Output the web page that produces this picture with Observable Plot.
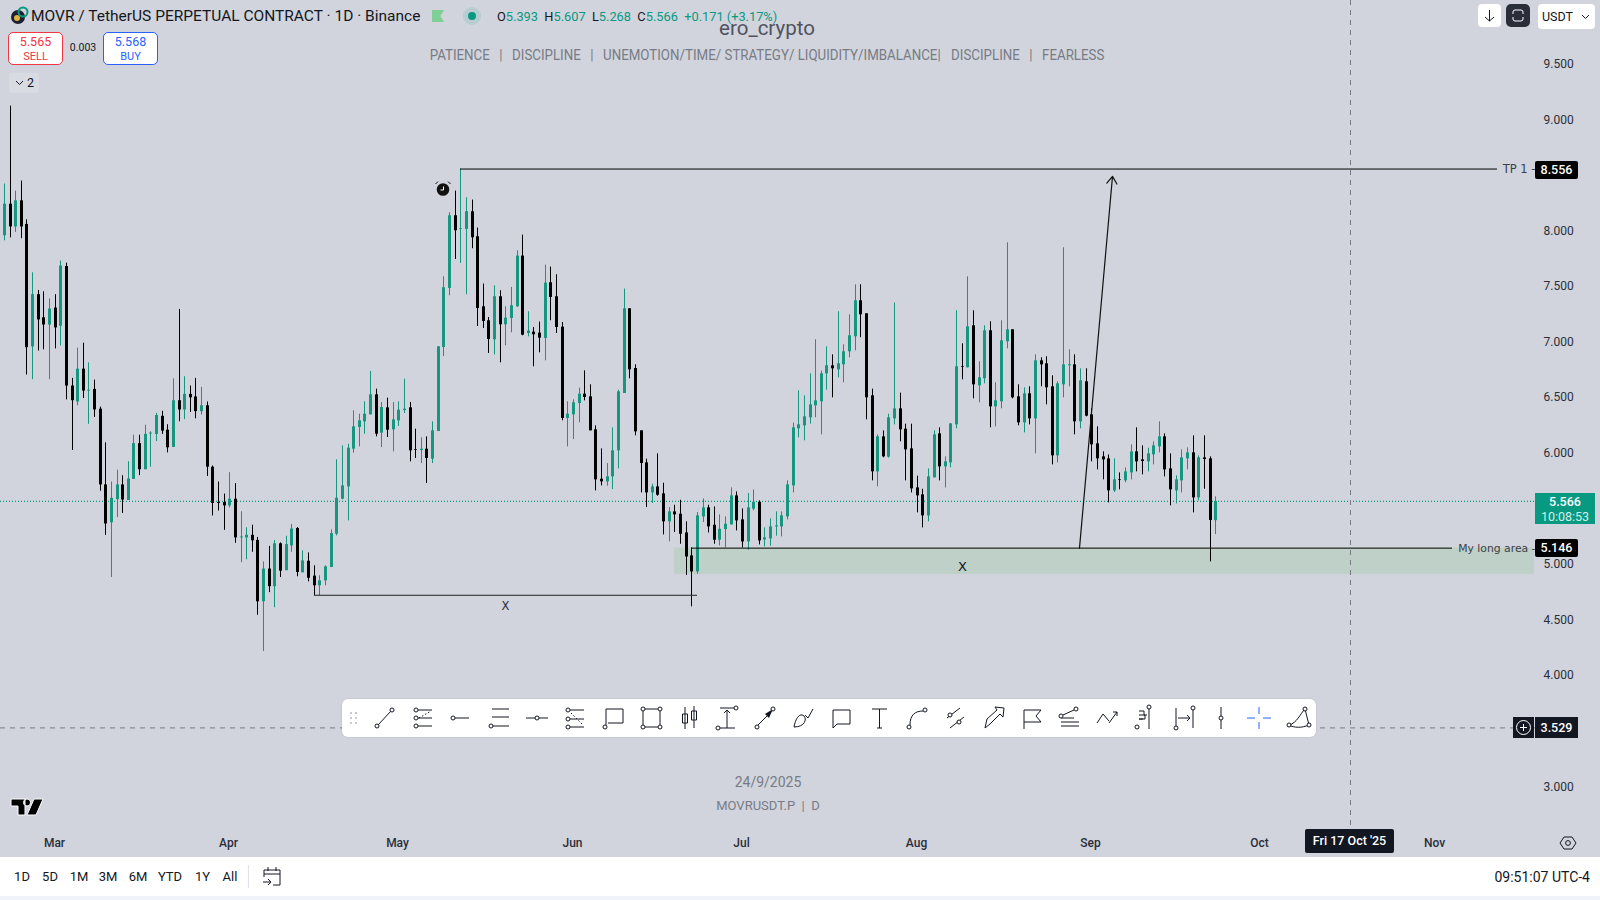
<!DOCTYPE html>
<html>
<head>
<meta charset="utf-8">
<script src="https://cdn.jsdelivr.net/npm/d3@7"></script>
<script src="https://cdn.jsdelivr.net/npm/@observablehq/plot@0.6"></script>
<style>
html,body{margin:0;padding:0;background:#d1d4dc;width:1600px;height:900px;overflow:hidden;font-family:Roboto,sans-serif;color:#131722}
#wrap{position:relative;width:1600px;height:900px;overflow:hidden}
#wrap > svg{display:block}
.abs{position:absolute;white-space:nowrap}
.tag{position:absolute;background:#000;color:#fff;font:500 12.5px Roboto,sans-serif;text-align:center;border-radius:2px}
.c{transform:translateX(-50%);text-align:center}
.wm{color:#787b86}
</style>
</head>
<body>
<div id="wrap"></div>
<script>
const firstBar = "2025-02-21";
const highs = [
8.421,9.122,8.357,8.448,8.100,7.623,7.464,7.452,7.388,7.426,
7.729,7.710,6.673,6.945,6.990,6.813,6.657,6.415,6.093,5.741,
5.847,5.798,5.923,6.162,6.162,6.252,6.192,6.358,6.377,6.256,
6.669,7.293,6.688,6.604,6.673,6.593,6.461,5.885,5.741,5.632,
5.825,5.726,5.473,5.329,5.352,5.242,5.022,5.162,5.215,5.193,
5.253,5.359,5.331,5.121,5.103,4.987,4.897,4.987,5.310,5.940,
6.066,6.081,6.381,6.351,6.462,6.735,6.576,6.456,6.495,6.456,
6.462,6.666,6.456,6.216,6.138,6.147,6.282,6.957,7.587,8.163,
8.358,8.556,8.298,8.277,8.025,7.521,7.221,7.506,7.461,7.317,
7.491,7.821,7.962,7.272,7.131,7.179,7.692,7.674,7.605,7.176,
6.462,6.480,6.585,6.741,6.615,6.246,6.039,5.907,6.228,6.567,
7.476,7.299,6.795,6.201,5.946,5.721,5.994,5.730,5.511,5.532,
5.577,5.382,5.148,5.466,5.589,5.532,5.517,5.445,5.427,5.688,
5.652,5.499,5.637,5.670,5.571,5.328,5.409,5.472,5.472,5.751,
6.270,6.561,6.516,6.714,7.020,6.738,6.957,6.885,7.272,6.975,
7.245,7.515,7.515,7.254,6.576,6.165,6.201,6.351,7.350,6.540,
6.261,6.261,5.793,5.676,5.859,6.201,6.228,5.967,6.264,7.281,
6.984,7.587,7.281,6.822,7.146,7.182,6.633,7.191,7.893,7.110,
6.615,6.588,6.597,6.885,6.858,6.867,6.696,6.642,7.848,6.930,
6.885,6.759,6.759,6.399,6.237,6.012,5.985,5.949,5.823,5.868,
6.075,6.228,6.066,6.045,6.102,6.282,6.174,5.994,5.796,6.030,
6.048,6.156,5.976,6.156,5.967,5.607];
const lows = [
7.910,7.937,7.986,7.929,6.703,6.661,6.919,6.930,6.661,6.938,
6.964,6.480,6.025,6.427,6.491,6.260,6.321,5.658,5.261,4.882,
5.420,5.458,5.575,5.764,5.798,5.851,5.874,6.105,6.169,6.003,
6.052,6.283,6.302,6.366,6.309,6.343,5.791,5.435,5.480,5.306,
5.507,5.189,5.015,5.041,5.109,4.542,4.216,4.746,4.610,4.882,
4.943,5.109,4.888,4.924,4.843,4.717,4.717,4.807,4.972,5.256,
5.580,5.391,6.000,6.057,6.171,6.345,6.147,6.051,6.141,6.012,
6.240,6.357,5.922,5.952,5.907,5.727,5.907,6.195,6.870,7.416,
7.743,7.707,7.425,7.839,7.140,7.122,6.897,6.885,6.813,6.966,
7.083,7.311,7.056,7.047,6.777,6.903,6.831,7.191,7.077,6.291,
6.057,6.123,6.273,6.471,6.201,5.661,5.706,5.703,5.673,5.859,
6.537,6.669,6.156,5.643,5.511,5.547,5.613,5.265,5.202,5.286,
5.181,4.900,4.618,4.911,5.376,5.283,5.181,5.166,5.148,5.355,
5.301,5.148,5.127,5.481,5.175,5.157,5.163,5.253,5.247,5.400,
5.643,6.138,6.111,6.261,6.318,6.165,6.567,6.498,6.678,6.633,
6.858,6.921,7.038,6.300,5.751,5.697,5.958,5.955,6.255,6.102,
5.751,5.643,5.463,5.328,5.382,5.778,5.751,5.688,5.868,6.219,
6.660,6.768,6.489,6.453,6.624,6.228,6.237,6.399,6.939,6.489,
6.246,6.183,6.255,5.994,6.597,6.435,5.895,5.913,6.498,6.597,
6.165,6.219,6.327,5.922,5.850,5.760,5.553,5.646,5.670,5.733,
5.760,5.832,5.805,5.832,5.895,6.003,5.787,5.526,5.544,5.643,
5.850,5.463,5.571,5.676,5.022,5.268];
const opens = [
7.956,8.240,8.035,8.270,8.058,6.956,7.426,7.218,7.153,7.305,
7.142,7.679,6.604,6.461,6.756,6.559,6.574,6.396,5.715,5.374,
5.582,5.715,5.575,5.764,6.086,5.851,6.173,6.169,6.332,6.207,
6.052,6.472,6.389,6.529,6.506,6.374,6.427,5.874,5.556,5.556,
5.526,5.586,5.238,5.238,5.261,5.215,4.663,4.958,4.799,5.185,
4.943,5.166,5.322,4.924,5.028,4.894,4.807,4.852,4.972,5.271,
5.586,5.697,6.036,6.231,6.282,6.345,6.525,6.180,6.408,6.210,
6.291,6.384,6.408,6.033,6.024,6.036,5.946,6.195,6.951,7.482,
8.136,8.013,8.013,8.172,7.947,7.317,7.191,7.020,7.407,7.155,
7.212,7.317,7.773,7.077,7.089,7.080,7.032,7.533,7.407,7.134,
6.312,6.345,6.447,6.531,6.507,6.210,5.766,5.742,5.787,6.021,
6.537,7.299,6.762,6.201,5.913,5.643,5.697,5.634,5.382,5.472,
5.451,5.283,5.076,4.932,5.427,5.508,5.352,5.217,5.313,5.355,
5.616,5.400,5.202,5.496,5.559,5.220,5.229,5.337,5.337,5.427,
5.706,6.219,6.246,6.318,6.426,6.462,6.714,6.786,6.750,6.795,
6.912,7.047,7.371,7.254,6.516,5.832,6.147,5.964,6.309,6.399,
6.216,6.039,5.688,5.625,5.436,5.778,6.174,5.877,5.913,6.255,
6.777,6.768,7.146,6.606,6.669,7.101,6.417,6.462,7.002,7.110,
6.507,6.273,6.534,6.309,6.831,6.804,6.597,5.976,6.615,6.786,
6.795,6.282,6.642,6.345,6.084,5.967,5.949,5.661,5.760,5.751,
5.823,6.012,5.940,5.922,5.985,6.057,6.147,5.859,5.661,5.751,
5.949,6.003,5.598,5.958,5.949,5.393];
const closes = [
8.240,8.035,8.270,8.035,6.949,7.426,7.199,7.153,7.297,7.127,
7.683,6.604,6.472,6.756,6.559,6.567,6.389,5.715,5.363,5.594,
5.715,5.579,5.768,6.086,5.851,6.169,6.181,6.339,6.199,6.048,
6.472,6.389,6.529,6.498,6.374,6.427,5.874,5.548,5.548,5.526,
5.586,5.238,5.246,5.261,5.212,4.663,4.958,4.799,5.185,4.939,
5.178,5.318,4.927,5.031,4.875,4.807,4.852,4.978,5.277,5.595,
5.706,6.045,6.237,6.291,6.351,6.525,6.171,6.411,6.207,6.300,
6.387,6.396,6.021,6.027,6.036,5.952,6.201,6.957,7.488,8.136,
8.001,8.019,8.172,7.938,7.302,7.185,7.023,7.407,7.155,7.215,
7.326,7.773,7.062,7.098,7.065,7.035,7.530,7.401,7.131,6.312,
6.351,6.453,6.531,6.501,6.201,5.760,5.742,5.787,6.021,6.552,
7.299,6.750,6.192,5.907,5.643,5.697,5.622,5.382,5.472,5.445,
5.271,5.067,4.932,5.436,5.508,5.337,5.217,5.316,5.361,5.616,
5.391,5.202,5.508,5.559,5.211,5.238,5.337,5.346,5.436,5.715,
6.228,6.255,6.327,6.435,6.471,6.714,6.786,6.759,6.804,6.912,
7.056,7.371,7.245,6.498,5.832,6.147,5.967,6.318,6.399,6.210,
6.030,5.679,5.616,5.436,5.787,6.165,5.877,5.922,6.264,6.777,
6.771,7.137,6.615,6.678,7.101,6.417,6.471,7.011,7.110,6.498,
6.273,6.534,6.309,6.831,6.795,6.588,5.976,6.624,6.795,6.795,
6.282,6.651,6.333,6.075,5.949,5.940,5.661,5.760,5.754,5.832,
6.012,5.922,5.925,5.994,6.066,6.147,5.850,5.670,5.760,5.958,
6.003,5.598,5.958,5.943,5.395,5.566];

const yTicks = [3,4,4.5,5,6,6.5,7,7.5,8,8.5,9,9.5];
const monthTicks = ["2025-03-02","2025-04-02","2025-05-02","2025-06-02","2025-07-02","2025-08-02","2025-09-02","2025-10-02","2025-11-02"];
const lastPrice = 5.566, crossPrice = 3.529, tpPrice = 8.556, longPrice = 5.146, zoneLow = 4.908, xLinePrice = 4.722;
const crossDate = "2025-10-18";
const UP = "#16967f", DOWN = "#000000";
const D = s => new Date(s + "T00:00:00Z");
const DT = s => new Date(s + ":00Z");

const bars = highs.map((h,i)=>({date:d3.utcDay.offset(D(firstBar),i),h,l:lows[i],o:opens[i],c:closes[i],color:closes[i]>=opens[i]?UP:DOWN}));

const chart = Plot.plot({
  width:1600,height:900,marginLeft:0,marginTop:0,marginRight:57,marginBottom:68,
  style:{background:"transparent",fontFamily:"Roboto, sans-serif",fontSize:"12px",color:"#131722"},
  x:{type:"utc",domain:[D(firstBar),D("2025-09-24")],range:[3.9,1215.2],round:true,axis:null},
  y:{domain:[3,9.5],range:[786.2,63.6],axis:null},
  color:{type:"identity"},
  marks:[
    Plot.rect([0],{x1:()=>D("2025-06-20"),x2:()=>DT("2025-11-19T12:00"),y1:()=>zoneLow,y2:()=>longPrice,fill:"#bed0c7"}),
    Plot.ruleY([lastPrice],{stroke:"#089981",strokeWidth:1.2,strokeDasharray:"1,2"}),
    Plot.ruleY([crossPrice],{stroke:"#787b86",strokeWidth:1,strokeDasharray:"5,5"}),
    Plot.ruleX([D(crossDate)],{stroke:"#787b86",strokeWidth:1,strokeDasharray:"5,5"}),
    Plot.ruleX(bars,{x:"date",y1:"l",y2:"h",stroke:"color",strokeWidth:1}),
    Plot.ruleX(bars,{x:"date",y1:"o",y2:"c",stroke:"color",strokeWidth:3}),
    Plot.ruleY([tpPrice],{x1:()=>D("2025-05-13"),x2:()=>D("2025-11-13"),stroke:"#000",strokeWidth:1}),
    Plot.ruleY([longPrice],{x1:()=>D("2025-06-23"),x2:()=>D("2025-11-05"),stroke:"#000",strokeWidth:1}),
    Plot.ruleY([xLinePrice],{x1:()=>D("2025-04-17"),x2:()=>D("2025-06-24"),stroke:"#222",strokeWidth:1.2}),
    Plot.arrow([0],{x1:()=>DT("2025-08-30T18:00"),y1:()=>longPrice,x2:()=>DT("2025-09-05T18:00"),y2:()=>8.49,bend:false,headLength:11,headAngle:70,stroke:"#111",strokeWidth:1.2}),
    Plot.text(["X"],{x:()=>D("2025-05-21"),y:()=>4.627,fontFamily:"DejaVu Sans",fontSize:11.5,fill:"#2a2e39"}),
    Plot.text(["X"],{x:()=>D("2025-08-10"),y:()=>4.98,fontFamily:"DejaVu Sans",fontSize:13,fill:"#131722"}),
    Plot.text(["TP 1 -"],{y:()=>tpPrice,frameAnchor:"right",textAnchor:"end",dx:-8,fontFamily:"DejaVu Sans",fontSize:11.5,fill:"#3b3f4a"}),
    Plot.text(["My long area -"],{y:()=>longPrice,frameAnchor:"right",textAnchor:"end",dx:-8,fontFamily:"DejaVu Sans",fontSize:10.8,fill:"#3b3f4a"}),
    Plot.axisY(yTicks,{anchor:"right",tickSize:0,tickPadding:0,tickFormat:d3.format(".3f"),fontSize:12,fill:"#2a2e39",label:null}),
    Plot.axisX(monthTicks.map(D),{anchor:"bottom",tickSize:0,tickPadding:6,tickFormat:d3.utcFormat("%b"),dx:-1,fontSize:12,fontWeight:500,fill:"#2a2e39",label:null})
  ]
});
const wrap = document.getElementById("wrap");
wrap.appendChild(chart);
chart.style.position="absolute";chart.style.left="0";chart.style.top="0";
const X = v => chart.scale("x").apply(v), Y = v => chart.scale("y").apply(v);

function el(html){const t=document.createElement("div");t.innerHTML=html;while(t.firstChild)wrap.appendChild(t.firstChild);}
function tag(text,price,off){const h=18;el(`<div class="tag" style="left:1535px;width:43px;top:${Y(price)-h/2+(off||0)}px;height:${h}px;line-height:${h}px">${text}</div>`);}

// price tags
tag(tpPrice.toFixed(3),tpPrice,1);
tag(longPrice.toFixed(3),longPrice,0);
el(`<div class="abs" style="left:1535px;top:${Y(crossPrice)-10.5}px;width:43px;height:21px;line-height:21px;background:#131722;color:#fff;font:500 12.5px/21px Roboto;text-align:center">${crossPrice.toFixed(3)}</div>`);
el(`<div class="abs" style="left:1513px;top:${Y(crossPrice)-10.5}px;width:21px;height:21px;background:#131722"><svg width="21" height="21"><circle cx="10.5" cy="10.5" r="7" fill="none" stroke="#fff"/><path d="M7 10.5H14M10.5 7V14" stroke="#fff"/></svg></div>`);
el(`<div class="abs" style="left:1535px;top:493px;width:60px;height:31px;background:#089981;color:#fff;text-align:center;font:500 12.5px/15px Roboto;padding-top:1px;box-sizing:border-box">${lastPrice.toFixed(3)}<br><span style="color:#d4efe9;font-weight:400">10:08:53</span></div>`);
el(`<div class="abs" style="left:${X(D(crossDate))-45}px;top:829px;width:89px;height:24px;background:#131722;color:#fff;border-radius:2px;text-align:center;font:500 12.5px/24px Roboto">Fri 17 Oct '25</div>`);

// header
el(`<svg class="abs" style="left:9px;top:6px" width="20" height="20"><circle cx="9" cy="11" r="7" fill="#1c2030"/><circle cx="8" cy="12" r="3" fill="#e3b341"/><circle cx="14" cy="6" r="4.5" fill="none" stroke="#089981" stroke-width="2"/></svg>`);
el(`<div class="abs" style="left:31px;top:7px;font:400 15.5px/19px Roboto">MOVR / TetherUS PERPETUAL CONTRACT · 1D · Binance</div>`);
el(`<svg class="abs" style="left:432px;top:10px" width="12" height="12"><path d="M0 0H12L8.5 6L12 12H0Z" fill="#7fcf96"/></svg>`);
el(`<svg class="abs" style="left:462px;top:6px" width="20" height="20"><circle cx="10" cy="10" r="9" fill="#089981" opacity=".12"/><circle cx="10" cy="10" r="4" fill="#089981"/></svg>`);
el(`<div class="abs" style="left:497px;top:8px;font:400 12.8px/17px Roboto;color:#089981"><span style="color:#131722">O</span>5.393 <span style="color:#131722">&nbsp;H</span>5.607 <span style="color:#131722">&nbsp;L</span>5.268 <span style="color:#131722">&nbsp;C</span>5.566 &nbsp;+0.171 (+3.17%)</div>`);
el(`<div class="abs wm c" style="left:767px;top:16px;font:400 20.5px/24px Roboto;color:#50535e">ero_crypto</div>`);
const sep = m => `<span style="margin:0 ${m}px">|</span>`;
el(`<div class="abs wm" style="left:767px;top:46px;font:400 14px/18px Roboto;transform:translateX(-50%) scaleX(.95)">PATIENCE${sep(10)}DISCIPLINE${sep(10)}UNEMOTION/TIME/ STRATEGY/ LIQUIDITY/IMBALANCE|<span style="margin-left:11px">DISCIPLINE</span>${sep(10)}FEARLESS</div>`);
el(`<div class="abs wm c" style="left:768px;top:773px;font:400 14px/18px Roboto">24/9/2025</div>`);
el(`<div class="abs wm c" style="left:768px;top:797px;font:400 13px/18px Roboto">MOVRUSDT.P &nbsp;|&nbsp; D</div>`);
el(`<div class="abs" style="left:8px;top:32px;width:55px;height:33px;box-sizing:border-box;border:1px solid #f23645;border-radius:5px;background:#fff;color:#f23645;text-align:center;font:400 12.5px/14px Roboto;padding-top:2px">5.565<br><span style="font-size:11px">SELL</span></div>`);
el(`<div class="abs c" style="left:83px;top:41px;font:400 10.5px/14px Roboto">0.003</div>`);
el(`<div class="abs" style="left:103px;top:32px;width:55px;height:33px;box-sizing:border-box;border:1px solid #2962ff;border-radius:5px;background:#fff;color:#2962ff;text-align:center;font:400 12.5px/14px Roboto;padding-top:2px">5.568<br><span style="font-size:11px">BUY</span></div>`);
el(`<div class="abs" style="left:9px;top:73px;width:30px;height:20px;background:#d9dbe2;border-radius:3px;font:400 12.5px/20px Roboto;padding-left:6px;box-sizing:border-box"><svg width="9" height="8" style="margin-right:3px;display:inline-block"><path d="M1 2L4.5 5.5L8 2" fill="none" stroke="#131722"/></svg>2</div>`);

// top right buttons
el(`<div class="abs" style="left:1478px;top:4px;width:23px;height:23px;background:#fff;border-radius:4px"><svg width="23" height="23"><path d="M11.5 6V17M7 13L11.5 17L16 13" fill="none" stroke="#131722"/></svg></div>`);
el(`<div class="abs" style="left:1506px;top:4px;width:24px;height:23px;background:#2a2e39;border-radius:5px"><svg width="24" height="23"><path d="M7 10V8Q7 6 9 6H15Q17 6 17 8V10M7 13V15Q7 17 9 17H15Q17 17 17 15V13" fill="none" stroke="#fff"/></svg></div>`);
el(`<div class="abs" style="left:1538px;top:4px;width:57px;height:25px;background:#fff;border-radius:4px;font:400 12.5px/25px Roboto;padding-left:4px;box-sizing:border-box">USDT<svg width="9" height="8" style="position:absolute;right:5px;top:9px"><path d="M1 2L4.5 5.5L8 2" fill="none" stroke="#131722"/></svg></div>`);

// alarm
el(`<svg class="abs" style="left:${X(D("2025-05-10"))-10}px;top:${Y(8.37)-10}px" width="20" height="20"><circle cx="10" cy="10.5" r="6.3" fill="#111"/><path d="M2.5 5L5 2.5M17.5 5L15 2.5" stroke="#111" stroke-width="1"/><path d="M10.5 7.5V11H7.5" stroke="#fff" fill="none"/></svg>`);

// TV logo and gear
el(`<svg class="abs" style="left:10px;top:798px" width="34" height="19"><path d="M1 1H15V17H8V8H1Z M17 1 a3.5 3.5 0 1 0 .01 0Z M24 1H33L26 17H17Z" fill="#000" stroke="#fff" stroke-width="1"/></svg>`);
el(`<svg class="abs" style="left:1559px;top:834px" width="18" height="18"><path d="M5 3H13L17 9L13 15H5L1 9Z" fill="none" stroke="#131722"/><circle cx="9" cy="9" r="2.4" fill="none" stroke="#131722"/></svg>`);

// bottom bar
el(`<div class="abs" style="left:0;top:857px;width:1600px;height:39px;background:#fff"></div><div class="abs" style="left:0;top:896px;width:1600px;height:4px;background:#f0f3fa"></div>`);
const ranges=[["1D",22],["5D",50],["1M",79],["3M",108],["6M",138],["YTD",170],["1Y",202.5],["All",230]];
ranges.forEach(([t,x])=>el(`<div class="abs c" style="left:${x}px;top:868px;font:400 13px/18px Roboto">${t}</div>`));
el(`<div class="abs" style="left:248px;top:865px;width:1px;height:23px;background:#e0e3eb"></div>`);
el(`<svg class="abs" style="left:262px;top:866px" width="20" height="22"><path d="M2 11V4H18V19H11M2 8H18M6 1V5M14 1V5M1 16H9M6 13L9 16L6 19" fill="none" stroke="#131722"/></svg>`);
el(`<div class="abs" style="right:10px;top:868px;font:400 14px/18px Roboto">09:51:07 UTC-4</div>`);

// drawing toolbar
el(`<div class="abs" style="left:342px;top:699px;width:974px;height:38px;background:#fff;border-radius:6px;box-shadow:0 0 2px rgba(0,0,0,.15)"></div>`);
el(`<svg class="abs" style="left:349px;top:711px" width="10" height="14"><g fill="#c8cbd3"><rect x="1" y="1" width="2" height="2"/><rect x="6" y="1" width="2" height="2"/><rect x="1" y="6" width="2" height="2"/><rect x="6" y="6" width="2" height="2"/><rect x="1" y="11" width="2" height="2"/><rect x="6" y="11" width="2" height="2"/></g></svg>`);
const c=(x,y)=>`<circle cx="${x}" cy="${y}" r="2" fill="#fff" stroke="#131722"/>`;
const p=(d,col)=>`<path d="${d}" fill="none" stroke="${col||"#131722"}"/>`;
const icons=[
 [385,p("M7 21L20 7")+c(6,22)+c(21,6)],
 [422.5,p("M9 6H23M9 14H23M9 22H23")+`<path d="M10 14L22 7" stroke="#131722" stroke-dasharray="1.5 2"/>`+c(7,6)+c(7,14)+c(7,22)],
 [460,p("M9 14H23")+c(7,14)],
 [499,p("M7 5H24M7 13H24M7 22H24")+c(6,22)],
 [537,p("M3 14H25")+c(14,14)],
 [574.5,p("M9 6H23M9 15H23M9 23H23")+`<path d="M10 9L22 21" stroke="#131722" stroke-dasharray="1.5 2"/>`+c(7,6)+c(7,15)+c(7,23)],
 [613,p("M7 21V5H24V19H9")+c(6,23)],
 [651,p("M6 7V21M8 5H21M23 7V21M8 23H21")+c(6,5)+c(23,5)+c(6,23)+c(23,23)],
 [689,p("M10 3V25M19 2V24M7.5 10H12.5V19H7.5ZM16.5 7H21.5V16H16.5Z")],
 [726.5,p("M7 4H22M7 24H22M14 24V6M11 9L14 6L17 9")+c(23,4)+c(5,24)],
 [765,p("M7 21L20 8")+`<path d="M22 5L14 10L18 14Z" fill="#131722"/>`+c(6,23)+c(22,5)],
 [803,p("M5 23C7 12 12 9 15 12C18 15 16 23 5 23M16 11L19 14L24 5")],
 [841,p("M6 6H23V20H10L6 24Z")],
 [878.6,p("M7 5H22M14.5 5V24M12 24H17")],
 [917,p("M7 21C7 11 12 7 20 7")+c(6,23)+c(22,6)],
 [955,p("M6 14L19 4M9 24L23 13")+c(9,11)+c(18,18)],
 [993,p("M6 24L8 15L18 6L16 3L25 4L24 13L21 10L11 20Z")],
 [1031,p("M7 25V6H24L19 12L24 18H7")],
 [1068,p("M7 22H25M7 18H25M7 14H20M9 11L20 6")+c(7,12)+c(22,5)],
 [1107,p("M4 19L10 10L16 17")+p("M16 19L24 8M20 8H24V12")],
 [1145,p("M18 3V25M8 7H13V11H16M8 11H14V15H8M8 15H12")+c(6,23)+c(18,3)],
 [1184,p("M6 4V24M23 4V24M8 14H20M17 11L20 14L17 17")+c(23,4)+c(6,24)],
 [1221,p("M14 3V25")+c(14,14)],
 [1259,p("M14 3V10M14 18V25M2 14H10M18 14H26","#2962ff")],
 [1298,p("M5 21C13 19 16 10 21 5L25 21C18 24 10 24 5 21")+c(5,21)+c(21,5)+c(25,21)]
];
icons.forEach(([x,s])=>el(`<svg class="abs" style="left:${x-14}px;top:704px" width="28" height="28">${s}</svg>`));
</script>
</body>
</html>
